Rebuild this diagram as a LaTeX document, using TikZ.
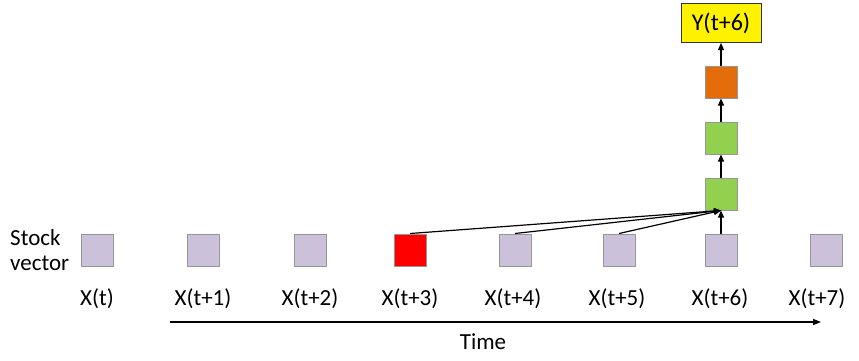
\documentclass[tikz,border=0pt]{standalone}
\usepackage{fontspec}
\setmainfont{Carlito}
\usetikzlibrary{arrows.meta}
\definecolor{lav}{RGB}{204,193,218}
\definecolor{bord}{RGB}{150,150,150}
\definecolor{grn}{RGB}{146,208,80}
\definecolor{org}{RGB}{228,108,10}
\begin{document}
\begin{tikzpicture}[x=1pt,y=-1pt,
  sq/.style={draw=bord,line width=1pt,minimum width=32pt,minimum height=32pt,inner sep=0pt,fill=#1},
  lbl/.style={font=\fontsize{23}{26}\selectfont,inner sep=0pt,anchor=base},
  arr/.style={-{Triangle[length=7pt,width=6pt]},line width=1.2pt}]
\useasboundingbox (0,0) rectangle (859,360);
\node[sq=lav] (x0) at (97,250) {};
\node[sq=lav] (x1) at (203,250) {};
\node[sq=lav] (x2) at (310,250) {};
\node[sq=red] (x3) at (410,250) {};
\node[sq=lav] (x4) at (515,250) {};
\node[sq=lav] (x5) at (619,250) {};
\node[sq=lav] (x6) at (721,250) {};
\node[sq=lav] (x7) at (826,250) {};
\node[sq=grn] (g1) at (721,194) {};
\node[sq=grn] (g2) at (721,138) {};
\node[sq=org] (o1) at (721,82) {};
\node[draw=black!80,line width=1pt,fill=yellow,minimum width=80pt,minimum height=39pt,inner sep=0pt,font=\fontsize{24}{26}\selectfont] (y) at (721,23) {Y(t+6)};
\node[lbl] (l0) at (97,305) {X(t)};
\node[lbl] (l1) at (203,305) {X(t+1)};
\node[lbl] (l2) at (310,305) {X(t+2)};
\node[lbl] (l3) at (410,305) {X(t+3)};
\node[lbl] (l4) at (513,305) {X(t+4)};
\node[lbl] (l5) at (617,305) {X(t+5)};
\node[lbl] (l6) at (720,305) {X(t+6)};
\node[lbl] (l7) at (817,305) {X(t+7)};
\node[lbl,anchor=base west] (s1) at (10,245) {Stock};
\node[lbl,anchor=base west] (s2) at (10,270) {vector};
\node[lbl] (tm) at (483,349) {Time};
\coordinate (ta) at (170,322);
\coordinate (tb) at (821,322);
\draw[-{Triangle[length=8pt,width=6pt]},line width=1.4pt] (ta) -- (tb);
\draw[arr] (x3.north) -- (g1.south);
\draw[arr] (x4.north) -- (g1.south);
\draw[arr] (x5.north) -- (g1.south);
\draw[arr] (x6.north) -- (g1.south);
\draw[arr] (g1.north) -- (g2.south);
\draw[arr] (g2.north) -- (o1.south);
\draw[arr] (o1.north) -- (y.south);
\end{tikzpicture}
\end{document}
